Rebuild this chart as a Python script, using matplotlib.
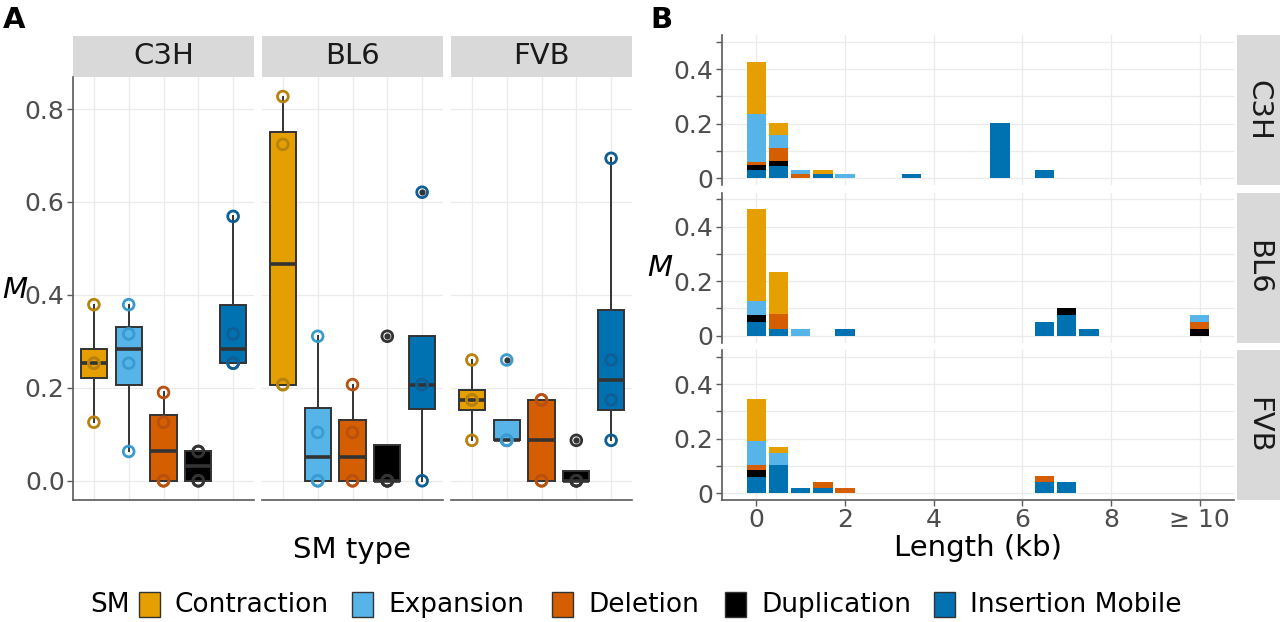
import matplotlib
matplotlib.use("Agg")
import matplotlib.pyplot as plt
import numpy as np
from matplotlib.patches import Rectangle

plt.rcParams['font.family'] = ['DejaVu Sans']

# ---------------- data ----------------
sm_types = ["Contraction", "Expansion", "Deletion", "Duplication", "Insertion Mobile"]
strains = ["C3H", "BL6", "FVB"]
fill_colors = ["#E69F00", "#56B4E9", "#D55E00", "#000000", "#0072B2"]
point_colors = ["#B8820F", "#3A9BD0", "#B85010", "#333333", "#0F5E94"]

# Panel A: M per sample (4 samples) for each SM type, in sm_types order
c3h_m = [[0.126, 0.253, 0.253, 0.379],
         [0.063, 0.253, 0.316, 0.379],
         [0.000, 0.000, 0.126, 0.190],
         [0.000, 0.000, 0.063, 0.063],
         [0.253, 0.253, 0.316, 0.569]]
bl6_m = [[0.207, 0.207, 0.724, 0.827],
         [0.000, 0.000, 0.104, 0.311],
         [0.000, 0.000, 0.104, 0.207],
         [0.000, 0.000, 0.000, 0.311],
         [0.000, 0.207, 0.207, 0.621]]
fvb_m = [[0.087, 0.174, 0.174, 0.260],
         [0.087, 0.087, 0.087, 0.260],
         [0.000, 0.000, 0.174, 0.174],
         [0.000, 0.000, 0.000, 0.087],
         [0.087, 0.174, 0.260, 0.694]]

# Panel B: M by length bin (kb); last bin is ">= 10"
length_bins = [0, 0.5, 1.0, 1.5, 2.0, 3.5, 5.5, 6.5, 7.0, 7.5, 10]
c3h_len = [[0.190, 0.047, 0.000, 0.015, 0.000, 0, 0, 0, 0, 0, 0],       # Contraction
           [0.175, 0.048, 0.015, 0.000, 0.016, 0, 0, 0, 0, 0, 0],       # Expansion
           [0.014, 0.047, 0.016, 0.000, 0.000, 0, 0, 0, 0, 0, 0],       # Deletion
           [0.016, 0.016, 0.000, 0.000, 0.000, 0, 0, 0, 0, 0, 0],       # Duplication
           [0.031, 0.046, 0.000, 0.016, 0.000, 0.016, 0.204, 0.031, 0, 0, 0]]  # Insertion Mobile
bl6_len = [[0.337, 0.156, 0, 0, 0, 0, 0, 0, 0, 0, 0],
           [0.052, 0.000, 0.025, 0, 0, 0, 0, 0, 0, 0, 0.027],
           [0.000, 0.053, 0, 0, 0, 0, 0, 0, 0, 0, 0.025],
           [0.027, 0.000, 0, 0, 0, 0, 0, 0, 0.025, 0, 0.025],
           [0.050, 0.025, 0, 0, 0.025, 0, 0, 0.050, 0.077, 0.025, 0]]
fvb_len = [[0.156, 0.022, 0, 0, 0, 0, 0, 0, 0, 0, 0],
           [0.086, 0.043, 0, 0, 0, 0, 0, 0, 0, 0, 0],
           [0.021, 0.000, 0, 0.022, 0.018, 0, 0, 0.021, 0, 0, 0],
           [0.025, 0.000, 0, 0, 0, 0, 0, 0, 0, 0, 0],
           [0.059, 0.105, 0.018, 0.018, 0, 0, 0, 0.041, 0.041, 0, 0]]

box_data = [c3h_m, bl6_m, fvb_m]
len_data = [c3h_len, bl6_len, fvb_len]

# ---------------- layout ----------------
W, H = 1280, 622
fig = plt.figure(figsize=(W / 100, H / 100), dpi=100)
fig.patch.set_facecolor("white")


def px_axes(x0, y0, x1, y1, **kw):
    return fig.add_axes([x0 / W, 1 - y1 / H, (x1 - x0) / W, (y1 - y0) / H], **kw)


GRID = "#EBEBEB"
SPINE = "#5A5A5A"
TICKC = "#4D4D4D"
STRIP = "#D9D9D9"
TICK_FS = 18
STRIP_FS = 21
TITLE_FS = 21
LEG_FS = 19


def strip(x0, y0, x1, y1, label, rotation=0):
    sa = px_axes(x0, y0, x1, y1)
    sa.set_facecolor(STRIP)
    sa.set_xticks([])
    sa.set_yticks([])
    for s in sa.spines.values():
        s.set_visible(False)
    sa.text(0.5, 0.5, label, ha="center", va="center", fontsize=STRIP_FS,
            color="#1A1A1A", rotation=rotation, transform=sa.transAxes)


# ---------------- Panel A ----------------
facet_x = [(73, 254), (262, 443), (451, 632)]
positions = np.arange(1, len(sm_types) + 1)
for k, (x0, x1) in enumerate(facet_x):
    strip(x0, 36, x1, 77, strains[k])
    ax = px_axes(x0, 77, x1, 500)
    data = box_data[k]
    bp = ax.boxplot(data, positions=positions, widths=0.75, patch_artist=True,
                    showcaps=False, whis=1.6,
                    boxprops=dict(edgecolor="#333333", linewidth=1.4),
                    medianprops=dict(color="#333333", linewidth=2.6),
                    whiskerprops=dict(color="#333333", linewidth=1.4),
                    flierprops=dict(marker="o", markerfacecolor="#333333",
                                    markeredgecolor="#333333", markersize=3.5))
    for patch, fc in zip(bp["boxes"], fill_colors):
        patch.set_facecolor(fc)
    for i, vals in enumerate(data):
        ax.scatter(np.full(len(vals), positions[i]), vals, s=60, facecolors="none",
                   edgecolors=point_colors[i], linewidths=2.0, zorder=5)
    ax.set_xlim(0.4, 5.6)
    ax.set_ylim(-0.0414, 0.869)
    ax.set_xticks(positions)
    ax.set_yticks([0, 0.2, 0.4, 0.6, 0.8])
    ax.set_axisbelow(True)
    ax.grid(True, color=GRID, linewidth=0.9)
    ax.tick_params(axis="x", length=0, labelbottom=False)
    for s in ["top", "right"]:
        ax.spines[s].set_visible(False)
    ax.spines["bottom"].set_color(SPINE)
    ax.spines["bottom"].set_linewidth(1.2)
    if k == 0:
        ax.spines["left"].set_color(SPINE)
        ax.spines["left"].set_linewidth(1.2)
        ax.set_yticklabels(["0.0", "0.2", "0.4", "0.6", "0.8"])
        ax.tick_params(axis="y", labelsize=TICK_FS, labelcolor=TICKC, color=SPINE,
                       length=4, width=1.0, pad=2)
    else:
        ax.spines["left"].set_visible(False)
        ax.tick_params(axis="y", length=0, labelleft=False)

fig.text(352 / W, 1 - 550 / H, "SM type", ha="center", va="center", fontsize=TITLE_FS)
fig.text(15 / W, 1 - 290 / H, "M", ha="center", va="center", fontsize=TITLE_FS,
         style="italic")
fig.text(3 / W, 1 - 20 / H, "A", ha="left", va="center", fontsize=21, fontweight="bold")

# ---------------- Panel B ----------------
row_y = [(35, 185), (192.5, 342.5), (350, 500)]
for k, (y0, y1) in enumerate(row_y):
    strip(1237, y0, 1280, y1, strains[k], rotation=-90)
    ax = px_axes(722, y0, 1234, y1)
    bottom = np.zeros(len(length_bins))
    order = [4, 3, 2, 1, 0]  # stack Insertion Mobile at bottom, Contraction on top
    for t in order:
        vals = np.array(len_data[k][t])
        ax.bar(length_bins, vals, bottom=bottom, width=0.44, color=fill_colors[t],
               linewidth=0, zorder=3)
        bottom += vals
    ax.set_xlim(-0.775, 10.775)
    ax.set_ylim(-0.025, 0.525)
    ax.set_yticks([0, 0.1, 0.2, 0.3, 0.4, 0.5])
    ax.set_yticklabels(["0", "", "0.2", "", "0.4", ""])
    ax.set_xticks([0, 2, 4, 6, 8, 10])
    ax.set_axisbelow(True)
    ax.grid(True, color=GRID, linewidth=0.9)
    for s in ["top", "right"]:
        ax.spines[s].set_visible(False)
    ax.spines["left"].set_color(SPINE)
    ax.spines["left"].set_linewidth(1.2)
    ax.tick_params(axis="y", labelsize=TICK_FS, labelcolor=TICKC, color=SPINE,
                   length=4, width=1.0, pad=2)
    if k == 2:
        ax.spines["bottom"].set_color(SPINE)
        ax.spines["bottom"].set_linewidth(1.2)
        ax.set_xticklabels(["0", "2", "4", "6", "8", "\u2265 10"])
        ax.tick_params(axis="x", labelsize=TICK_FS, labelcolor=TICKC, color=SPINE,
                       length=4, width=1.0, pad=2)
    else:
        ax.spines["bottom"].set_visible(False)
        ax.tick_params(axis="x", length=0, labelbottom=False)

fig.text(978 / W, 1 - 548 / H, "Length (kb)", ha="center", va="center", fontsize=TITLE_FS)
fig.text(660 / W, 1 - 268 / H, "M", ha="center", va="center", fontsize=TITLE_FS,
         style="italic")
fig.text(650 / W, 1 - 20 / H, "B", ha="left", va="center", fontsize=21, fontweight="bold")

# ---------------- Legend ----------------
leg_y = 605
fig.text(90 / W, 1 - leg_y / H, "SM", ha="left", va="center", fontsize=LEG_FS)
patch_x = [139, 352, 552, 725, 934]
for x, c, lab in zip(patch_x, fill_colors, sm_types):
    fig.patches.append(Rectangle((x / W, 1 - (leg_y + 12) / H), 21 / W, 25 / H,
                                 transform=fig.transFigure, facecolor=c,
                                 edgecolor="#333333", linewidth=1.0))
    fig.text((x + 36) / W, 1 - leg_y / H, lab, ha="left", va="center", fontsize=LEG_FS)

fig.savefig("out.png", dpi=100, facecolor="white")
